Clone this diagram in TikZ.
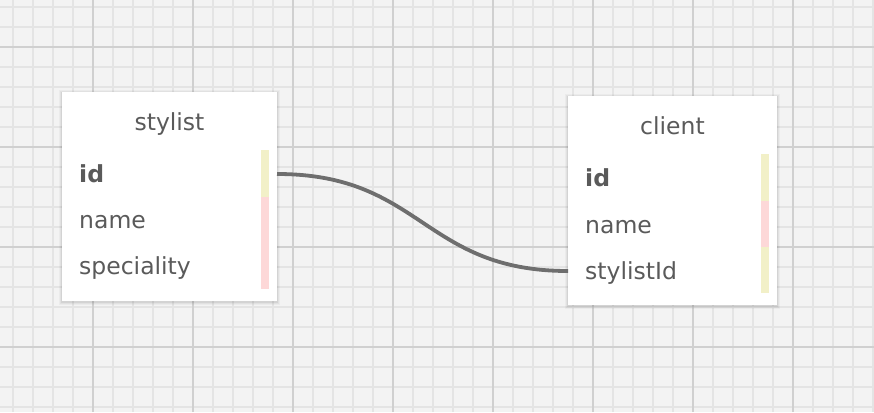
\documentclass[tikz,border=0pt]{standalone}
\usepackage{fontspec}
\setmainfont{DejaVu Sans}
\definecolor{bg}{HTML}{F3F3F3}
\definecolor{minorgrid}{HTML}{E4E4E4}
\definecolor{majorgrid}{HTML}{D0D0D0}
\definecolor{txt}{HTML}{5A5A5A}
\definecolor{pkyellow}{HTML}{F2F0C8}
\definecolor{fieldpink}{HTML}{FDD8D8}
\definecolor{wire}{HTML}{6E6E6E}
\tikzset{
  minorline/.style={draw=minorgrid, line width=1.6pt},
  majorline/.style={draw=majorgrid, line width=1.8pt},
  tablebox/.style={draw=none, fill=white, anchor=north west, inner sep=0pt, outer sep=0pt},
  tabletitle/.style={anchor=base, inner sep=0pt, text=txt, font=\fontsize{23.5}{27}\selectfont},
  field/.style={anchor=base west, inner sep=0pt, text=txt, font=\fontsize{23.5}{27}\selectfont},
  pkfield/.style={field, font=\fontsize{23.5}{27}\selectfont\bfseries},
  connector/.style={draw=wire, line width=3.8pt},
}
\begin{document}
\begin{tikzpicture}[x=1pt, y=-1pt]
\useasboundingbox (0,0) rectangle (874,412);
\fill[bg] (0,0) rectangle (874,412);
% grid
\foreach \x in {13,33,...,873} \draw[minorline] (\x,0) -- (\x,412);
\foreach \y in {7,27,...,407} \draw[minorline] (0,\y) -- (874,\y);
\foreach \x in {93,193,...,893} \draw[majorline] (\x,0) -- (\x,412);
\foreach \y in {47,147,247,347} \draw[majorline] (0,\y) -- (874,\y);
% shadows
\foreach \d/\o in {3/0.03,2/0.04,1/0.06} {
  \fill[black, opacity=\o] (62-\d,92-\d+1) rectangle (277+\d,301+\d+1);
  \fill[black, opacity=\o] (568-\d,96-\d+1) rectangle (777+\d,305+\d+1);
}
% stylist table
\node[tablebox, minimum width=215pt, minimum height=209pt] (stylist) at (62,92) {};
\node[tabletitle] (stylist-title) at (169.5,130) {stylist};
\node[pkfield] (stylist-id) at (79,182) {id};
\node[field] (stylist-name) at (79,228) {name};
\node[field] (stylist-spec) at (79,274) {speciality};
\fill[pkyellow] (261,150) rectangle (269,197);
\fill[fieldpink] (261,197) rectangle (269,289);
% client table
\node[tablebox, minimum width=209pt, minimum height=209pt] (client) at (568,96) {};
\node[tabletitle] (client-title) at (672.5,134) {client};
\node[pkfield] (client-id) at (585,186) {id};
\node[field] (client-name) at (585,233) {name};
\node[field] (client-stylistid) at (585,279) {stylistId};
\fill[pkyellow] (761,154) rectangle (769,201);
\fill[fieldpink] (761,201) rectangle (769,247);
\fill[pkyellow] (761,247) rectangle (769,293);
% connector
\coordinate (sport) at (stylist.east |- 0,174);
\coordinate (cport) at (client.west |- 0,271);
\draw[connector] (sport) .. controls +(145,0) and +(-145,0) .. (cport);
\end{tikzpicture}
\end{document}
